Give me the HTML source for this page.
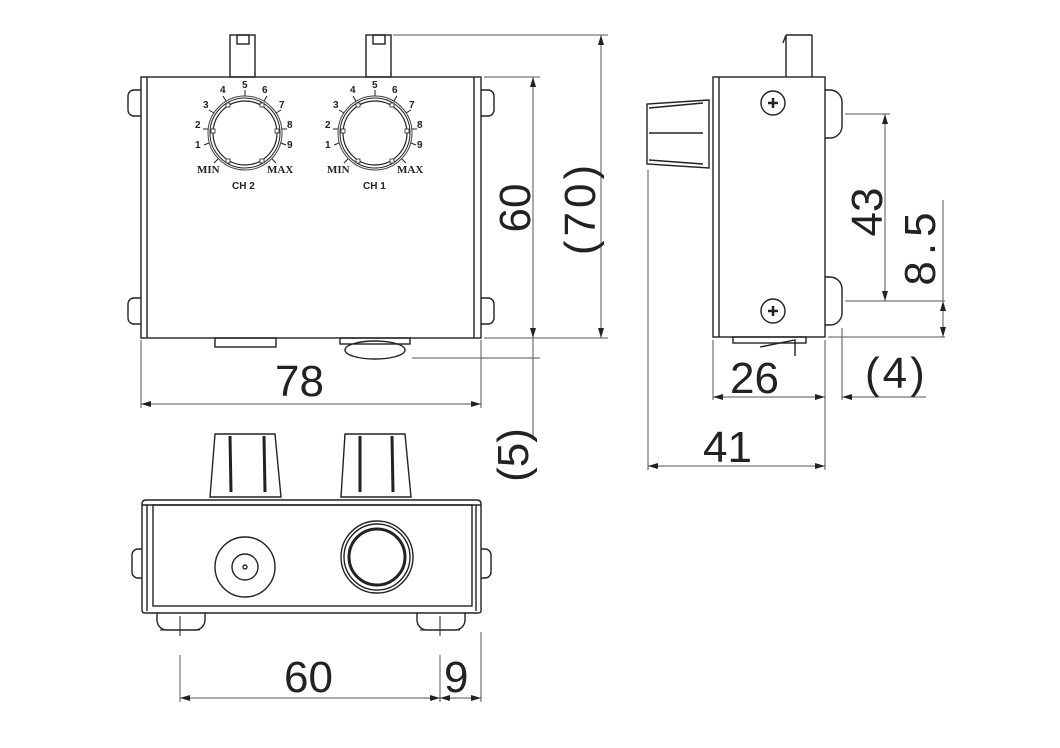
<!DOCTYPE html>
<html><head><meta charset="utf-8"><style>
html,body{margin:0;padding:0;background:#fff;width:1060px;height:748px;overflow:hidden}
svg{display:block}
.d{font-family:"Liberation Sans",sans-serif;font-size:44px;fill:#222}
.s{font-family:"Liberation Sans",sans-serif;font-size:10px;font-weight:bold;fill:#222}
.m{font-family:"Liberation Serif",serif;font-size:11px;font-weight:bold;fill:#222}
</style></head><body>
<svg width="1060" height="748" viewBox="0 0 1060 748" xmlns="http://www.w3.org/2000/svg">
<defs>
<marker id="a" viewBox="0 0 10 6" refX="10" refY="3" markerWidth="12" markerHeight="6" orient="auto-start-reverse" markerUnits="userSpaceOnUse"><path d="M0,0 L10,3 L0,6 z" fill="#222"/></marker>
<g id="dial">
 <circle r="32" fill="none" stroke="#222" stroke-width="1.2"/>
 <circle r="35" fill="none" stroke="#222" stroke-width="1"/>
 <circle r="37" fill="none" stroke="#444" stroke-width="1"/>
 <g stroke="#222" stroke-width="1" fill="none">
  <line x1="0" y1="-37" x2="0" y2="-43"/>
  <line x1="-19" y1="-32" x2="-22" y2="-37"/>
  <line x1="19" y1="-32" x2="22" y2="-37"/>
  <line x1="-31" y1="-20" x2="-36" y2="-23"/>
  <line x1="31" y1="-20" x2="36" y2="-23"/>
  <line x1="-37" y1="-4" x2="-42" y2="-4"/>
  <line x1="37" y1="-4" x2="42" y2="-4"/>
  <line x1="-36" y1="10" x2="-41" y2="12"/>
  <line x1="36" y1="10" x2="41" y2="12"/>
  <line x1="-27" y1="26" x2="-31" y2="30"/>
  <line x1="27" y1="26" x2="31" y2="30"/>
 </g>
 <g fill="#fff" stroke="#222" stroke-width="0.8">
  <rect x="-19" y="-30" width="4" height="4"/><rect x="15" y="-30" width="4" height="4"/>
  <rect x="-34" y="-4" width="4" height="4"/><rect x="30" y="-4" width="4" height="4"/>
  <rect x="-19" y="26" width="4" height="4"/><rect x="15" y="26" width="4" height="4"/>
 </g>
 <text class="s" x="-3" y="-45">5</text>
 <text class="s" x="-25" y="-40">4</text>
 <text class="s" x="17" y="-40">6</text>
 <text class="s" x="-42" y="-25">3</text>
 <text class="s" x="34" y="-25">7</text>
 <text class="s" x="-50" y="-5">2</text>
 <text class="s" x="42" y="-5">8</text>
 <text class="s" x="-50" y="15">1</text>
 <text class="s" x="42" y="15">9</text>
 <text class="m" x="-48" y="40">MIN</text>
 <text class="m" x="22" y="40">MAX</text>
</g>
</defs>
<g fill="none" stroke="#222" stroke-width="1.4">
 <rect x="141" y="77" width="340" height="261" fill="#fff"/>
 <line x1="147" y1="77" x2="147" y2="338"/>
 <line x1="474" y1="77" x2="474" y2="338"/>
 <rect x="230" y="35" width="25" height="42"/><rect x="237" y="35" width="12" height="9"/>
 <rect x="366" y="35" width="25" height="42"/><rect x="373" y="35" width="12" height="9"/>
 <path d="M141,90 h-7 a6,6 0 0 0 -6,6 v14 a6,6 0 0 0 6,6 h7"/>
 <path d="M141,298 h-7 a6,6 0 0 0 -6,6 v14 a6,6 0 0 0 6,6 h7"/>
 <path d="M481,90 h7 a6,6 0 0 1 6,6 v14 a6,6 0 0 1 -6,6 h-7"/>
 <path d="M481,298 h7 a6,6 0 0 1 6,6 v14 a6,6 0 0 1 -6,6 h-7"/>
 <rect x="215" y="338" width="61" height="9"/>
 <rect x="340" y="338" width="70" height="6"/>
 <ellipse cx="375" cy="350" rx="30" ry="9"/>
</g>
<use href="#dial" x="245" y="133"/>
<use href="#dial" x="375" y="133"/>
<text class="s" x="232" y="189">CH 2</text>
<text class="s" x="363" y="189">CH 1</text>

<g stroke="#555" stroke-width="1" fill="none">
 <line x1="141" y1="340" x2="141" y2="408"/>
 <line x1="481" y1="340" x2="481" y2="408"/>
 <line x1="141" y1="404" x2="481" y2="404" marker-start="url(#a)" marker-end="url(#a)"/>
 <line x1="484" y1="77" x2="540" y2="77"/>
 <line x1="484" y1="338" x2="608" y2="338"/>
 <line x1="533" y1="77" x2="533" y2="338" marker-start="url(#a)" marker-end="url(#a)"/>
 <line x1="393" y1="35" x2="608" y2="35"/>
 <line x1="601" y1="35" x2="601" y2="338" marker-start="url(#a)" marker-end="url(#a)"/>
 <line x1="412" y1="358" x2="540" y2="358"/>
 <line x1="533" y1="338" x2="533" y2="440"/>
</g>
<text class="d" x="275" y="396">78</text>
<text class="d" transform="translate(530,208) rotate(-90)" text-anchor="middle">60</text>
<text class="d" transform="translate(595,208) rotate(-90)" text-anchor="middle" letter-spacing="4">(70)</text>
<text class="d" transform="translate(528,455) rotate(-90)" text-anchor="middle">(5)</text>

<g fill="none" stroke="#222" stroke-width="1.4">
 <rect x="713" y="77" width="112" height="260" fill="#fff"/>
 <line x1="719" y1="77" x2="719" y2="337"/>
 <path d="M786,35 v42 M812,35 v42 M786,35 h26 M786,35 l-3,8"/>
 <path d="M709,100 L647,104 V164 L709,168 Z"/>
 <path d="M649,108 L703,103 M649,133 L703,133 M649,160 L703,164"/>
 <circle cx="773" cy="103" r="12"/><circle cx="773" cy="311" r="12"/>
 <path d="M768,103 h10 M773,98 v10" stroke-width="2.5"/>
 <path d="M768,311 h10 M773,306 v10" stroke-width="2.5"/>
 <path d="M825,90 h5 a12,12 0 0 1 12,12 v24 a12,12 0 0 1 -12,12 h-5"/>
 <path d="M825,277 h5 a12,12 0 0 1 12,12 v24 a12,12 0 0 1 -12,12 h-5"/>
 <rect x="733" y="337" width="73" height="6"/>
 <path d="M760,347 L795,340 L795,356"/>
</g>
<g stroke="#555" stroke-width="1" fill="none">
 <line x1="845" y1="114" x2="890" y2="114"/>
 <line x1="845" y1="301" x2="945" y2="301"/>
 <line x1="885" y1="114" x2="885" y2="301" marker-start="url(#a)" marker-end="url(#a)"/>
 <line x1="828" y1="337" x2="945" y2="337"/>
 <line x1="943" y1="200" x2="943" y2="337"/>
 <line x1="943" y1="301" x2="943" y2="337" marker-start="url(#a)" marker-end="url(#a)"/>
 <line x1="713" y1="340" x2="713" y2="400"/>
 <line x1="825" y1="340" x2="825" y2="470"/>
 <line x1="842" y1="328" x2="842" y2="400"/>
 <line x1="713" y1="397" x2="825" y2="397" marker-start="url(#a)" marker-end="url(#a)"/>
 <line x1="842" y1="397" x2="926" y2="397" marker-start="url(#a)"/>
 <line x1="648" y1="170" x2="648" y2="470"/>
 <line x1="648" y1="466" x2="825" y2="466" marker-start="url(#a)" marker-end="url(#a)"/>
</g>
<text class="d" x="730" y="393">26</text>
<text class="d" x="865" y="388" letter-spacing="3">(4)</text>
<text class="d" x="703" y="462">41</text>
<text class="d" transform="translate(882,212) rotate(-90)" text-anchor="middle">43</text>
<text class="d" transform="translate(935,246) rotate(-90)" text-anchor="middle" letter-spacing="6">8.5</text>

<g fill="none" stroke="#222" stroke-width="1.4">
 <path d="M215,434 H275 L281,497 H210 Z"/>
 <path d="M230,436 L231,492 M264,436 L265,492" stroke-width="3"/>
 <path d="M345,434 H405 L411,497 H341 Z"/>
 <path d="M360,436 L360,492 M392,436 L393,492" stroke-width="3"/>
 <path d="M146,500 H477 Q481,500 481,504 V611 Q481,613 478,613 H145 Q142,613 142,610 V504 Q142,500 146,500 Z" fill="#fff"/>
 <rect x="153" y="505" width="319" height="101"/>
 <line x1="142" y1="505" x2="481" y2="505"/>
 <line x1="147" y1="505" x2="147" y2="611"/>
 <line x1="476" y1="505" x2="476" y2="611"/>
 <circle cx="245" cy="567" r="30"/><circle cx="245" cy="567" r="13"/><circle cx="245" cy="567" r="2"/>
 <circle cx="377" cy="557" r="36"/><circle cx="377" cy="557" r="33"/>
 <circle cx="377" cy="557" r="28" stroke-width="3"/>
 <path d="M142,549 h-4 a6,6 0 0 0 -6,6 v17 a6,6 0 0 0 6,6 h4"/>
 <path d="M481,549 h4 a6,6 0 0 1 6,6 v17 a6,6 0 0 1 -6,6 h-4"/>
 <path d="M157,613 v7 a10,10 0 0 0 10,10 h28 a10,10 0 0 0 10,-10 v-7"/>
 <path d="M417,613 v7 a10,10 0 0 0 10,10 h28 a10,10 0 0 0 10,-10 v-7"/>
 <path d="M180,616 v20 M160,630 h40 M440,616 v20 M420,630 h40" stroke-width="1"/>
</g>
<g stroke="#555" stroke-width="1" fill="none">
 <line x1="180" y1="655" x2="180" y2="702"/>
 <line x1="440" y1="655" x2="440" y2="702"/>
 <line x1="481" y1="632" x2="481" y2="702"/>
 <line x1="180" y1="698" x2="440" y2="698" marker-start="url(#a)" marker-end="url(#a)"/>
 <line x1="440" y1="698" x2="481" y2="698" marker-start="url(#a)" marker-end="url(#a)"/>
</g>
<text class="d" x="284" y="692">60</text>
<text class="d" x="444" y="692">9</text>
</svg>
</body></html>
